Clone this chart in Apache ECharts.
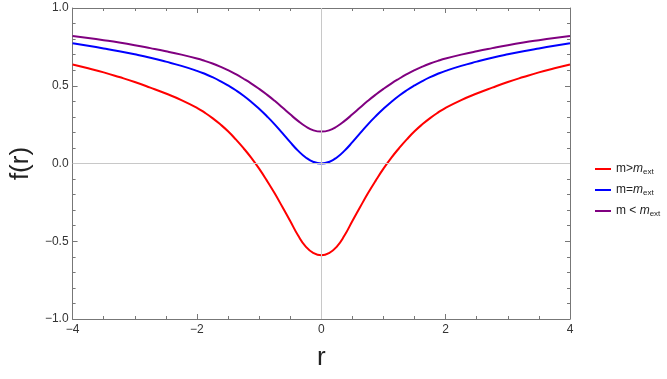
<!DOCTYPE html>
<html>
<head>
<meta charset="utf-8">
<script src="https://cdn.jsdelivr.net/npm/echarts@6/dist/echarts.min.js"></script>
<style>
  html, body { margin: 0; padding: 0; background: #fff; }
  #chart { width: 667px; height: 379px; }
</style>
</head>
<body>
<div id="chart"></div>
<script>
// r values
var rValues = [-4, -3.75, -3.5, -3.25, -3, -2.75, -2.5, -2.25,
               -2, -1.875, -1.75, -1.625, -1.5, -1.375, -1.25, -1.125, -1, -0.875, -0.75, -0.625, -0.5, -0.375, -0.25, -0.125,
               0,
               0.125, 0.25, 0.375, 0.5, 0.625, 0.75, 0.875, 1, 1.125, 1.25, 1.375, 1.5, 1.625, 1.75, 1.875, 2,
               2.25, 2.5, 2.75, 3, 3.25, 3.5, 3.75, 4];
// f(r) for m > m_ext
var fAbove = [0.637, 0.612, 0.586, 0.556, 0.524, 0.488, 0.450, 0.408,
              0.358, 0.327, 0.292, 0.252, 0.207, 0.155, 0.098, 0.036, -0.033, -0.110, -0.192, -0.280, -0.370, -0.462, -0.535, -0.576,
              -0.590,
              -0.576, -0.535, -0.462, -0.370, -0.280, -0.192, -0.110, -0.033, 0.036, 0.098, 0.155, 0.207, 0.252, 0.292, 0.327, 0.358,
              0.408, 0.450, 0.488, 0.524, 0.556, 0.586, 0.612, 0.637];
// f(r) for m = m_ext
var fEqual = [0.773, 0.757, 0.740, 0.722, 0.702, 0.680, 0.655, 0.628,
              0.596, 0.577, 0.555, 0.530, 0.502, 0.471, 0.436, 0.396, 0.352, 0.304, 0.252, 0.195, 0.137, 0.083, 0.039, 0.010,
              0.000,
              0.010, 0.039, 0.083, 0.137, 0.195, 0.252, 0.304, 0.352, 0.396, 0.436, 0.471, 0.502, 0.530, 0.555, 0.577, 0.596,
              0.628, 0.655, 0.680, 0.702, 0.722, 0.740, 0.757, 0.773];
// f(r) for m < m_ext
var fBelow = [0.820, 0.807, 0.793, 0.778, 0.761, 0.742, 0.722, 0.700,
              0.675, 0.660, 0.643, 0.623, 0.600, 0.574, 0.545, 0.514, 0.480, 0.443, 0.403, 0.360, 0.316, 0.274, 0.238, 0.213,
              0.205,
              0.213, 0.238, 0.274, 0.316, 0.360, 0.403, 0.443, 0.480, 0.514, 0.545, 0.574, 0.600, 0.623, 0.643, 0.660, 0.675,
              0.700, 0.722, 0.742, 0.761, 0.778, 0.793, 0.807, 0.820];

var xTicks = [-4, -2, 0, 2, 4];
var yTicks = [-1.0, -0.5, 0.0, 0.5, 1.0];

var seriesNames = ['m>m_ext', 'm=m_ext', 'm < m_ext'];

function pairs(ys) {
    return rValues.map(function (r, i) { return [r, ys[i]]; });
}
function minus(s) { return String(s).replace('-', '\u2212'); }

var frameColor = '#777';
var font = 'Liberation Sans, Arial, sans-serif';
var labelStyle = { color: '#333', fontSize: 12, fontFamily: font };

var chart = echarts.init(document.getElementById('chart'));

var option = {
    animation: false,
    backgroundColor: '#fff',
    grid: { left: 70, right: 97, top: 8, bottom: 60 },
    legend: {
        orient: 'vertical',
        left: 590,
        top: 158,
        itemGap: 8,
        itemWidth: 16,
        itemHeight: 2,
        icon: 'rect',
        data: seriesNames,
        formatter: function (name) {
            if (name === 'm>m_ext') return '{a|m>}{i|m}{s|ext}';
            if (name === 'm=m_ext') return '{a|m=}{i|m}{s|ext}';
            return '{a|m < }{i|m}{s|ext}';
        },
        textStyle: {
            rich: {
                a: { fontSize: 12, color: '#222', fontFamily: font },
                i: { fontSize: 12, color: '#222', fontStyle: 'italic', fontFamily: font },
                s: { fontSize: 8, color: '#222', padding: [6, 0, 0, 0], fontFamily: font }
            }
        }
    },
    xAxis: [
        {
            type: 'value', min: xTicks[0], max: xTicks[xTicks.length - 1], interval: 2,
            name: 'r', nameLocation: 'middle', nameGap: 26,
            nameTextStyle: { fontSize: 26, color: '#222', fontFamily: font },
            axisLine: { onZero: false, lineStyle: { color: frameColor } },
            axisTick: { inside: true, length: 5, lineStyle: { color: frameColor } },
            minorTick: { show: true, splitNumber: 4, length: 3, lineStyle: { color: frameColor } },
            axisLabel: Object.assign({ margin: 5, formatter: function (v) { return minus(v); } }, labelStyle),
            splitLine: { show: false }
        },
        {
            type: 'value', min: xTicks[0], max: xTicks[xTicks.length - 1], interval: 2, position: 'top',
            axisLine: { onZero: false, lineStyle: { color: frameColor } },
            axisTick: { inside: true, length: 5, lineStyle: { color: frameColor } },
            minorTick: { show: true, splitNumber: 4, length: 3, lineStyle: { color: frameColor } },
            axisLabel: { show: false },
            splitLine: { show: false }
        }
    ],
    yAxis: [
        {
            type: 'value', min: yTicks[0], max: yTicks[yTicks.length - 1], interval: 0.5,
            name: 'f(r)', nameLocation: 'middle', nameGap: 36, nameRotate: 90,
            nameTextStyle: { fontSize: 26, color: '#222', fontFamily: font },
            axisLine: { onZero: false, lineStyle: { color: frameColor } },
            axisTick: { inside: true, length: 5, lineStyle: { color: frameColor } },
            minorTick: { show: true, splitNumber: 5, length: 3, lineStyle: { color: frameColor } },
            axisLabel: Object.assign({ margin: 4, formatter: function (v) { return minus(v.toFixed(1)); } }, labelStyle),
            splitLine: { show: false }
        },
        {
            type: 'value', min: yTicks[0], max: yTicks[yTicks.length - 1], interval: 0.5, position: 'right',
            axisLine: { onZero: false, lineStyle: { color: frameColor } },
            axisTick: { inside: true, length: 5, lineStyle: { color: frameColor } },
            minorTick: { show: true, splitNumber: 5, length: 3, lineStyle: { color: frameColor } },
            axisLabel: { show: false },
            splitLine: { show: false }
        }
    ],
    series: [
        {
            name: seriesNames[0], type: 'line', smooth: true, showSymbol: false,
            data: pairs(fAbove), color: '#ff0000', lineStyle: { width: 2, color: '#ff0000' },
            z: 3,
            markLine: {
                silent: true, symbol: 'none', label: { show: false },
                lineStyle: { color: '#c8c8c8', width: 1, type: 'solid' },
                data: [{ xAxis: 0 }, { yAxis: 0 }]
            }
        },
        {
            name: seriesNames[1], type: 'line', smooth: true, showSymbol: false,
            data: pairs(fEqual), color: '#0000ff', lineStyle: { width: 2, color: '#0000ff' }, z: 3
        },
        {
            name: seriesNames[2], type: 'line', smooth: true, showSymbol: false,
            data: pairs(fBelow), color: '#800080', lineStyle: { width: 2, color: '#800080' }, z: 3
        }
    ]
};

chart.setOption(option);
window.onresize = function () { chart.resize(); };
</script>
</body>
</html>
